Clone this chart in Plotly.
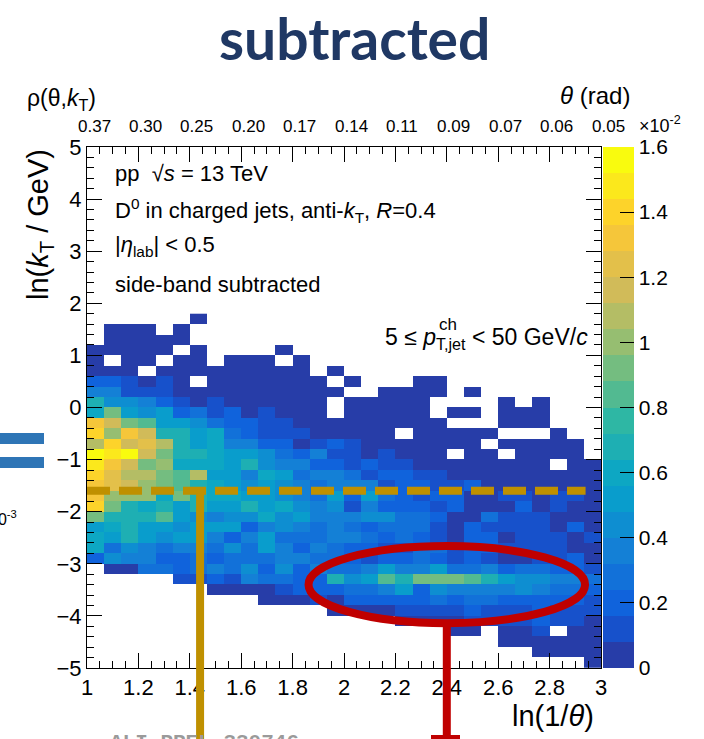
import numpy as np
import plotly.graph_objects as go

FONT = "Liberation Sans"
N = None

# Lund-plane binning: 30 bins in ln(1/theta), 0.2-wide bins in ln(kT)
x_edges = np.linspace(1.0, 3.0, 31)
y_edges = np.round(np.linspace(-5.0, 1.8, 35), 2)

# rho(theta, kT) in units of 1e-2, rows from ln(kT) in [1.6,1.8] down to [-5.0,-4.8]
rho_rows = [
    [N, N, N, N, N, N, .04, N, N, N, N, N, N, N, N, N, N, N, N, N, N, N, N, N, N, N, N, N, N, N],
    [N, .04, .04, .04, N, .04, N, N, N, N, N, N, N, N, N, N, N, N, N, N, N, N, N, N, N, N, N, N, N, N],
    [N, .04, .04, .04, .04, .04, N, N, N, N, N, N, N, N, N, N, N, N, N, N, N, N, N, N, N, N, N, N, N, N],
    [.04, .04, .04, .04, .04, N, .04, N, N, N, N, .04, N, N, N, N, N, N, N, N, N, N, N, N, N, N, N, N, N, N],
    [.04, N, .04, .04, N, .04, .04, N, .04, .04, .04, N, .04, N, N, N, N, N, N, N, N, N, N, N, N, N, N, N, N, N],
    [.04, .04, .04, N, .04, .04, .04, .04, .04, .04, .04, .04, .04, N, .04, N, N, N, N, N, N, N, N, N, N, N, N, N, N, N],
    [.20, .20, .12, .04, .12, .04, N, .04, .04, .04, .04, .04, .04, .04, N, .04, N, N, N, .04, .04, N, N, N, N, N, N, N, N, N],
    [.36, .36, .12, .12, .12, .04, .04, .04, .04, .04, .04, .04, .04, .04, .04, N, N, .04, .04, .04, .04, N, .04, N, N, N, N, N, N, N],
    [.68, .44, .44, .36, .20, .12, .04, .12, .04, .04, .04, .04, .04, .04, N, .04, .04, .04, .04, .04, N, N, N, N, .04, N, .04, N, N, N],
    [.60, .92, .52, .44, .52, .20, .28, .12, .20, .04, .12, .04, .04, .04, N, .04, .04, .04, .04, .04, N, .04, .04, N, .04, .04, .04, N, N, N],
    [1.32, 1.16, .92, .84, .52, .52, .44, .28, .20, .20, .12, .12, .04, .04, .04, .04, .04, .04, .04, .04, .04, N, N, N, .04, .04, .04, N, N, N],
    [1.40, 1.00, 1.32, 1.16, .68, .68, .52, .60, .28, .20, .12, .12, .12, .04, .04, .04, .04, .04, N, .04, .04, .04, .04, .04, N, N, N, .04, N, N],
    [1.08, 1.40, 1.16, 1.24, 1.08, .68, .52, .60, .36, .36, .20, .20, .04, .12, .20, .12, .04, .04, .04, .04, .04, .04, .04, N, .04, .04, .04, .04, .04, N],
    [1.56, 1.48, 1.56, 1.16, .92, .68, .68, .60, .52, .52, .44, .28, .20, .36, .12, .12, .04, .12, .04, .04, .04, N, .04, .04, N, .04, .04, .04, .04, N],
    [1.48, 1.32, 1.16, .92, 1.00, .60, .60, .60, .52, .68, .44, .36, .36, .20, .20, .12, .20, .12, .12, .04, .04, .04, .04, .04, .04, .04, .04, N, .04, .04],
    [1.40, 1.24, 1.08, 1.08, .92, .84, 1.08, .52, .52, .36, .60, .52, .28, .36, .36, .28, .12, .20, .20, .12, .12, .04, .04, .04, .04, .04, .04, .04, .04, .04],
    [1.32, 1.24, 1.16, 1.00, .92, .84, .68, .60, .52, .44, .52, .44, .36, .28, .36, .36, .36, .12, .20, .20, .12, .12, .20, .04, .04, .04, .04, .04, .04, .04],
    [1.32, 1.00, 1.00, 1.00, .60, .92, .68, .60, .60, .52, .52, .44, .36, .28, .52, .20, .52, .28, .20, .12, .20, .20, .04, .04, .12, .12, .04, .12, .12, .04],
    [1.40, .92, .68, .60, .68, .52, .68, .52, .52, .68, .52, .60, .44, .36, .44, .12, .36, .20, .20, .20, .12, .20, .04, .04, .04, .20, .04, .12, .04, .04],
    [.92, .68, .68, .68, .84, .52, .44, .36, .44, .44, .60, .44, .52, .36, .36, .36, .44, .44, .28, .28, .20, .04, .04, .28, .12, .12, .12, .04, .04, .04],
    [.52, .60, .68, .52, .52, .44, .52, .52, .52, .20, .36, .44, .36, .28, .36, .28, .20, .28, .28, .28, .12, .04, .20, .12, .12, .12, .12, .04, .20, .04],
    [.60, .52, .68, .52, .44, .52, .52, .36, .20, .36, .52, .28, .28, .28, .36, .36, .28, .20, .28, .20, .12, .04, .20, .20, .04, .12, .12, .12, .04, .12],
    [.60, .28, .44, .36, .28, .36, .36, .28, .44, .28, .52, .36, .20, .36, .28, .20, .20, .12, .12, .28, .28, .12, .20, .20, .12, .12, .12, .12, .04, .04],
    [.20, .44, .36, .36, .20, .20, .28, .20, .28, .28, .28, .36, .36, .28, .28, .20, .12, .20, .20, .28, .20, .12, .20, .12, .04, .04, .12, .12, .20, .04],
    [N, .04, .04, .28, .28, .20, .28, .36, .28, .44, .20, .44, .20, .36, .28, .28, .36, .52, .36, .36, .52, .28, .28, .36, .20, .28, .28, .20, .20, .12],
    [N, N, N, N, N, .12, .12, .20, .12, .36, .28, .28, .20, .20, .68, .44, .52, .84, .68, .92, .92, .92, .84, .68, .52, .44, .44, .36, .36, .28],
    [N, N, N, N, N, N, N, .04, .04, .04, .04, .12, .20, .20, .20, .28, .28, .36, .52, .20, .44, .36, .36, .36, .36, .44, .36, .28, .28, .20],
    [N, N, N, N, N, N, N, N, N, N, .04, .04, .04, .12, .04, .20, .20, .20, .20, .20, .28, .20, .28, .28, .20, .20, .20, .20, .20, .12],
    [N, N, N, N, N, N, N, N, N, N, N, N, N, N, .04, .04, .04, .04, .12, .12, .12, .12, .20, .12, .12, .12, .20, .12, .12, .12],
    [N, N, N, N, N, N, N, N, N, N, N, N, N, N, N, N, N, N, .04, .04, .04, .04, .12, .12, .12, .12, .20, .12, .12, .04],
    [N, N, N, N, N, N, N, N, N, N, N, N, N, N, N, N, N, N, N, N, N, .04, .04, N, .04, .04, .12, N, .04, .04],
    [N, N, N, N, N, N, N, N, N, N, N, N, N, N, N, N, N, N, N, N, N, N, N, N, .04, .04, .04, .04, .04, .04],
    [N, N, N, N, N, N, N, N, N, N, N, N, N, N, N, N, N, N, N, N, N, N, N, N, N, N, .04, .04, .04, .04],
    [N, N, N, N, N, N, N, N, N, N, N, N, N, N, N, N, N, N, N, N, N, N, N, N, N, N, N, N, N, .04],
]
z = rho_rows[::-1]  # bottom row first for ascending y

# secondary-axis labels: theta = exp(-ln(1/theta))
theta_ticks = [1.0, 1.2, 1.4, 1.6, 1.8, 2.0, 2.2, 2.4, 2.6, 2.8, 3.0]
theta_labels = ["0.37", "0.30", "0.25", "0.20", "0.17", "0.14", "0.11", "0.09", "0.07", "0.06", "0.05"]

cbar_vals = [0, 0.2, 0.4, 0.6, 0.8, 1.0, 1.2, 1.4, 1.6]
cbar_text = ["0", "0.2", "0.4", "0.6", "0.8", "1", "1.2", "1.4", "1.6"]

# guide lines drawn over the histogram
kt_cut = -1.6          # dashed horizontal line in ln(kT)
theta_mark = 1.44      # vertical marker in ln(1/theta)
ellipse_box = (1.862, 2.938, -4.14, -2.66)
ellipse_mark = 2.40

# 20-level bird palette
bird_pos = [0.0, 0.125, 0.25, 0.375, 0.5, 0.625, 0.75, 0.875, 1.0]
bird_r = [0.2082, 0.0592, 0.0780, 0.0232, 0.1802, 0.5301, 0.8186, 0.9956, 0.9764]
bird_g = [0.1664, 0.3599, 0.5041, 0.6419, 0.7178, 0.7492, 0.7328, 0.7862, 0.9832]
bird_b = [0.5293, 0.8684, 0.8385, 0.7914, 0.6425, 0.4662, 0.3499, 0.1968, 0.0539]
n_lev = 20
colorscale = []
for i in range(n_lev):
    f = int((i + 0.99) * 255 / n_lev) / 254
    rgb = [int(round(255 * np.interp(f, bird_pos, ch))) for ch in (bird_r, bird_g, bird_b)]
    col = "rgb({},{},{})".format(*rgb)
    colorscale.append([i / n_lev, col])
    colorscale.append([(i + 1) / n_lev, col])

# page geometry (pixels)
W, H = 704, 739
L, R, T, B = 87, 103, 147, 71
PW, PH = W - L - R, H - T - B


def fx(px):
    return (px - L) / PW


def fy(py):
    return (H - B - py) / PH


def dx(x):
    return (x - 1.0) / 2.0


def dy(y):
    return (y + 5.0) / 10.0


fig = go.Figure()
fig.add_trace(go.Heatmap(
    x=x_edges, y=y_edges, z=z, zmin=0, zmax=1.6, zauto=False,
    colorscale=colorscale, hoverongaps=False,
    colorbar=dict(
        thickness=31, thicknessmode="pixels", len=1, lenmode="fraction",
        x=fx(603), xanchor="left", y=0.5, yanchor="middle", xpad=0, ypad=0,
        outlinewidth=0, ticks="inside", ticklen=14, tickwidth=1, tickcolor="black",
        tickmode="array", tickvals=cbar_vals, ticktext=cbar_text,
        tickfont=dict(family=FONT, size=21, color="black"),
    ),
))

axis_common = dict(
    showline=True, linecolor="black", linewidth=1, mirror="allticks",
    ticks="inside", ticklen=15, tickwidth=1, tickcolor="black",
    showgrid=False, zeroline=False,
    tickfont=dict(family=FONT, size=22, color="black"),
)
fig.update_layout(
    width=W, height=H, margin=dict(l=L, r=R, t=T, b=B),
    paper_bgcolor="white", plot_bgcolor="white",
    xaxis=dict(range=[1, 3], tickmode="linear", tick0=1, dtick=0.2,
               minor=dict(dtick=0.05, tick0=1, ticks="inside", ticklen=7, tickcolor="black", showgrid=False),
               **axis_common),
    yaxis=dict(range=[-5, 5], tickmode="linear", tick0=-5, dtick=1,
               minor=dict(dtick=0.2, tick0=-5, ticks="inside", ticklen=7, tickcolor="black", showgrid=False),
               **axis_common),
    showlegend=False,
)

shapes = []
# dashed kT line
shapes.append(dict(type="line", xref="x", yref="y", x0=1.0, x1=2.94, y0=kt_cut, y1=kt_cut,
                   line=dict(color="rgb(191,144,0)", width=8, dash="23px,9px")))
# vertical marker from the kT line down off the frame
shapes.append(dict(type="line", xref="paper", yref="paper", x0=dx(theta_mark), x1=dx(theta_mark),
                   y0=dy(kt_cut), y1=fy(H + 5), line=dict(color="rgb(191,144,0)", width=8)))
# ellipse around the low-kT band
ex0, ex1, ey0, ey1 = ellipse_box
shapes.append(dict(type="circle", xref="x", yref="y", x0=ex0, x1=ex1, y0=ey0, y1=ey1,
                   line=dict(color="rgb(192,0,0)", width=8)))
shapes.append(dict(type="line", xref="paper", yref="paper", x0=dx(ellipse_mark), x1=dx(ellipse_mark),
                   y0=dy(ey0), y1=fy(H + 5), line=dict(color="rgb(192,0,0)", width=8)))
shapes.append(dict(type="rect", xref="paper", yref="paper", x0=fx(431), x1=fx(460),
                   y0=fy(739), y1=fy(735), fillcolor="rgb(192,0,0)", line=dict(width=0)))
# equals sign at the left edge
for top, bot in [(433, 444), (457, 468)]:
    shapes.append(dict(type="rect", xref="paper", yref="paper", x0=fx(0), x1=fx(44),
                       y0=fy(bot), y1=fy(top), fillcolor="rgb(46,117,182)", line=dict(width=0)))
fig.update_layout(shapes=shapes)


def note(text, px, py, size=21, xa="left", ya="middle", color="black", family=FONT, angle=0):
    fig.add_annotation(text=text, x=fx(px), y=fy(py), xref="paper", yref="paper",
                       xanchor=xa, yanchor=ya, showarrow=False, textangle=angle,
                       font=dict(family=family, size=size, color=color))


note("<b>subtracted</b>", 354, 38, size=57, xa="center", color="#1F3864", family="Lato")
note("ρ(θ,<i>k</i><sub>T</sub>)", 25, 100, size=23)
note("<i>θ</i> (rad)", 632, 96, size=24, xa="right")
for xv, lab in zip(theta_ticks, theta_labels):
    note(lab, L + PW * dx(xv) + 7, 126, size=17, xa="center")
note("×10<sup>-2</sup>", 637, 124, size=18)
note("ln(<i>k</i><sub>T</sub> / GeV)", 40, 225, size=29, xa="center", angle=-90)
note("ln(1/<i>θ</i>)", 553, 716, size=29, xa="center")

note("pp  √<i>s</i> = 13 TeV", 113, 173, size=22)
note("D<sup>0</sup> in charged jets, anti-<i>k</i><sub>T</sub>, <i>R</i>=0.4", 113, 210, size=22)
note("|<i>η</i><sub>lab</sub>| < 0.5", 113, 246, size=22)
note("side-band subtracted", 113, 284, size=22)
note("5 ≤ <i>p</i><sub>T,jet</sub> < 50 GeV/<i>c</i>", 590, 338, size=23, xa="right")
note("ch", 437, 324, size=17)

note("10<sup>-3</sup>", 19, 518, size=16, xa="right")
note("<b>ALI-PREL-330746</b>", 108, 729, size=21, ya="top", color="#9a9a9a", family="Liberation Mono")

fig.write_html("out.html")
